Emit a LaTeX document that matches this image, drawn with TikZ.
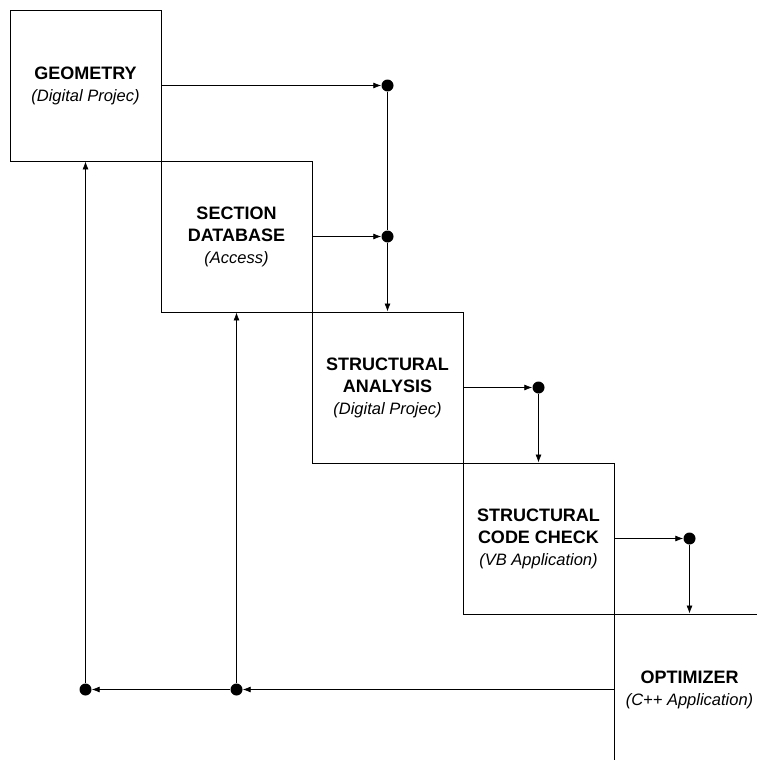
\documentclass[tikz,border=0pt]{standalone}
\usepackage{fontspec}
\setmainfont{Liberation Sans}
\usepackage{tikz}
\usetikzlibrary{arrows.meta}
\tikzset{>={Latex[length=8pt,width=6pt]}}
\tikzset{
  stage/.style={draw, line width=0.9pt, minimum width=151pt, minimum height=151pt,
                inner sep=0pt, align=center, font=\fontsize{17}{22}\selectfont},
  dot/.style={circle, fill, inner sep=0pt, minimum size=12pt},
  link/.style={line width=0.8pt}
}
\newcommand{\stagetitle}[1]{{\fontsize{18}{22}\selectfont\bfseries #1}}
\newcommand{\stagetool}[1]{{\fontsize{16.5}{22}\selectfont\itshape #1}}

\begin{document}
\begin{tikzpicture}[x=1pt, y=-1pt]
    \useasboundingbox (0, 0) rectangle (757, 760);
    \clip (0, 0) rectangle (757, 760);
    % stages
    \node[stage] (geo) at (85.5, 85.5) {\stagetitle{GEOMETRY}\\\stagetool{(Digital Projec)}};
    \node[stage] (sec) at (236.5, 236.5) {\stagetitle{SECTION}\\\stagetitle{DATABASE}\\\stagetool{(Access)}};
    \node[stage] (ana) at (387.5, 387.5) {\stagetitle{STRUCTURAL}\\\stagetitle{ANALYSIS}\\\stagetool{(Digital Projec)}};
    \node[stage] (code) at (538.5, 538.5) {\stagetitle{STRUCTURAL}\\\stagetitle{CODE CHECK}\\\stagetool{(VB Application)}};
    \node[stage] (opt) at (689.5, 689.5) {\stagetitle{OPTIMIZER}\\\stagetool{(C++ Application)}};
    % junctions
    \node[dot] (d1) at (387.5, 85.5) {};
    \node[dot] (d2) at (387.5, 236.5) {};
    \node[dot] (d3) at (538.5, 387.5) {};
    \node[dot] (d4) at (689.5, 538.5) {};
    \node[dot] (d5) at (236.5, 689.5) {};
    \node[dot] (d6) at (85.5, 689.5) {};
    % forward flow
    \draw[link, ->] (geo) -- (d1);
    \draw[link, ->] (sec) -- (d2);
    \draw[link] (d1) -- (d2);
    \draw[link, ->] (d2) -- (ana);
    \draw[link, ->] (ana) -- (d3);
    \draw[link, ->] (d3) -- (code);
    \draw[link, ->] (code) -- (d4);
    \draw[link, ->] (d4) -- (opt);
    % feedback
    \draw[link, ->] (opt) -- (d5);
    \draw[link, ->] (d5) -- (d6);
    \draw[link, ->] (d6) -- (geo);
    \draw[link, ->] (d5) -- (sec);
\end{tikzpicture}
\end{document}
